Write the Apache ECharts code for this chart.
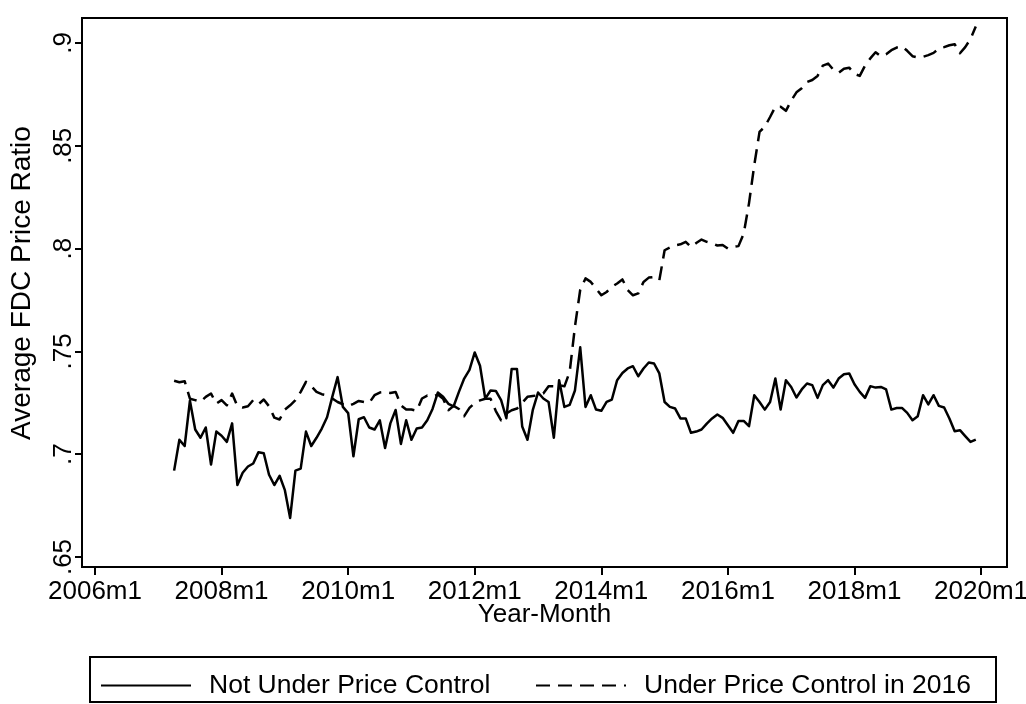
<!DOCTYPE html>
<html>
<head>
<meta charset="utf-8">
<script src="https://cdn.jsdelivr.net/npm/echarts@6/dist/echarts.min.js"></script>
<style>
  html, body { margin: 0; padding: 0; background: #ffffff; }
  #chart { width: 1026px; height: 704px; }
</style>
</head>
<body>
<div id="chart"></div>
<script>
// ---- data (monthly, 2007m4 .. 2019m12) ----
const startYear = 2007;
const startMonth = 4;            // first observation: 2007m4
const baseYear = 2006;           // x axis origin: 2006m1
const xTickValues = [0, 24, 48, 72, 96, 120, 144, 168];   // months since 2006m1
const xTickLabels = ['2006m1', '2008m1', '2010m1', '2012m1', '2014m1', '2016m1', '2018m1', '2020m1'];
const yTickValues = [0.65, 0.7, 0.75, 0.8, 0.85, 0.9];
const yTickLabels = ['.65', '.7', '.75', '.8', '.85', '.9'];
const seriesNames = ['Not Under Price Control', 'Under Price Control in 2016'];

const notUnderControl = [
  // 2007 m4-m12
  0.692, 0.707, 0.704, 0.726, 0.712, 0.708, 0.713, 0.695, 0.711,
  // 2008
  0.709, 0.706, 0.715, 0.685, 0.691, 0.694, 0.6955, 0.701, 0.7005, 0.690, 0.685, 0.6895,
  // 2009
  0.6825, 0.669, 0.692, 0.693, 0.711, 0.704, 0.708, 0.7125, 0.718, 0.728, 0.7375, 0.723,
  // 2010
  0.720, 0.699, 0.717, 0.718, 0.713, 0.712, 0.7165, 0.703, 0.715, 0.7215, 0.705, 0.7165,
  // 2011
  0.707, 0.7125, 0.713, 0.7165, 0.722, 0.730, 0.728, 0.7245, 0.7233, 0.7303, 0.7368, 0.741,
  // 2012
  0.7495, 0.743, 0.727, 0.731, 0.7308, 0.7263, 0.7175, 0.7415, 0.7415, 0.7135, 0.707, 0.7214,
  // 2013
  0.730, 0.7271, 0.7254, 0.708, 0.736, 0.723, 0.724, 0.731, 0.752, 0.723, 0.7287, 0.7217,
  // 2014
  0.7211, 0.7254, 0.7266, 0.736, 0.7395, 0.7417, 0.7428, 0.7379, 0.7417, 0.7446, 0.7441, 0.7393,
  // 2015
  0.7254, 0.723, 0.7222, 0.7174, 0.7174, 0.7104, 0.711, 0.712, 0.7149, 0.7174, 0.7193, 0.7177,
  // 2016
  0.7141, 0.7104, 0.7162, 0.7162, 0.7136, 0.7287, 0.7254, 0.7217, 0.7254, 0.7368, 0.7217, 0.736,
  // 2017
  0.7327, 0.7276, 0.7315, 0.7344, 0.7336, 0.7274, 0.7336, 0.736, 0.7324, 0.7368, 0.7389, 0.7393,
  // 2018
  0.734, 0.7303, 0.7274, 0.7331, 0.7324, 0.7327, 0.7315, 0.7217, 0.7225, 0.7225, 0.7201, 0.7165,
  // 2019
  0.7185, 0.7287, 0.7242, 0.7287, 0.7235, 0.7227, 0.7174, 0.7112, 0.7117, 0.7088, 0.706, 0.7071
];

const underControl2016 = [
  // 2007 m4-m12
  0.7357, 0.735, 0.7355, 0.727, 0.7263, 0.7255, 0.7279, 0.7295, 0.7246,
  // 2008
  0.7263, 0.7238, 0.7295, 0.7233, 0.7227, 0.7233, 0.7263, 0.7243, 0.7266, 0.7233, 0.7178, 0.7169,
  // 2009
  0.7217, 0.7238, 0.7263, 0.7303, 0.7352, 0.7331, 0.7303, 0.7292, 0.7287, 0.7271, 0.7254, 0.7243,
  // 2010
  0.7233, 0.7245, 0.7259, 0.7254, 0.725, 0.7287, 0.730, 0.7303, 0.7298, 0.7303, 0.7238, 0.7217,
  // 2011
  0.7217, 0.7211, 0.7271, 0.7285, 0.728, 0.729, 0.727, 0.7214, 0.7235, 0.722, 0.7185, 0.7225,
  // 2012
  0.725, 0.7262, 0.727, 0.727, 0.721, 0.7165, 0.7198, 0.7214, 0.7222, 0.725, 0.7279, 0.7283,
  // 2013
  0.7287, 0.7295, 0.7331, 0.733, 0.7336, 0.733, 0.740, 0.762, 0.780, 0.7855, 0.7838, 0.7806,
  // 2014
  0.7773, 0.7789, 0.7814, 0.783, 0.785, 0.7798, 0.7773, 0.7782, 0.7838, 0.7859, 0.7862, 0.7846,
  // 2015
  0.7992, 0.8005, 0.8016, 0.8021, 0.8033, 0.8008, 0.8027, 0.8044, 0.8033, 0.8025, 0.8015, 0.8018,
  // 2016
  0.800, 0.8008, 0.8012, 0.8073, 0.822, 0.8406, 0.8568, 0.8593, 0.864, 0.869, 0.869, 0.867,
  // 2017
  0.872, 0.876, 0.878, 0.881, 0.882, 0.884, 0.889, 0.890, 0.887, 0.8855, 0.8875, 0.888,
  // 2018
  0.885, 0.884, 0.889, 0.8925, 0.8955, 0.8935, 0.8945, 0.8965, 0.8978, 0.8984, 0.8962, 0.8936,
  // 2019
  0.893, 0.8933, 0.8941, 0.8952, 0.8973, 0.898, 0.8989, 0.8994, 0.895, 0.898, 0.902, 0.908
];

// ---- build chart ----
const firstIndex = (startYear - baseYear) * 12 + (startMonth - 1); // months since 2006m1
const toPairs = arr => arr.map((v, i) => [firstIndex + i, v]);

const FONT = '"Liberation Sans", Arial, Helvetica, sans-serif';
const FS = 26;
const chart = echarts.init(document.getElementById('chart'), null, { renderer: 'canvas' });

const option = {
  animation: false,
  backgroundColor: '#ffffff',
  textStyle: { fontFamily: FONT, color: '#000' },
  grid: {
    left: 82, right: 19, top: 18, bottom: 137,
    containLabel: false,
    outerBoundsMode: 'none',
    show: true, borderColor: '#000', borderWidth: 2, backgroundColor: 'transparent'
  },
  xAxis: {
    type: 'value',
    // plot region padding around 2006m1..2020m1, as in the original
    min: -2.465,
    max: 172.92,
    axisLine: { show: false, onZero: false },
    axisTick: { show: true, length: 8, customValues: xTickValues, lineStyle: { color: '#000', width: 2 } },
    splitLine: { show: false },
    axisLabel: {
      color: '#000', fontSize: FS, fontFamily: FONT, margin: 12,
      customValues: xTickValues,
      formatter: v => xTickLabels[xTickValues.indexOf(Math.round(v))]
    },
    name: 'Year-Month',
    nameLocation: 'middle',
    nameGap: 35,
    nameMoveOverlap: false,
    nameTextStyle: { color: '#000', fontSize: FS, fontFamily: FONT }
  },
  yAxis: {
    type: 'value',
    min: 0.64514,
    max: 0.91216,
    axisLine: { show: false, onZero: false },
    axisTick: { show: true, length: 7, customValues: yTickValues, lineStyle: { color: '#000', width: 2 } },
    splitLine: { show: false },
    axisLabel: {
      color: '#000', fontSize: FS, fontFamily: FONT, rotate: 90, margin: 5,
      customValues: yTickValues,
      formatter: v => yTickLabels[Math.round((v - 0.65) / 0.05)]
    },
    name: 'Average FDC Price Ratio',
    nameLocation: 'middle',
    nameRotate: 90,
    nameGap: 46,
    nameMoveOverlap: false,
    nameTextStyle: { color: '#000', fontSize: 28, fontFamily: FONT, padding: [0, 0, 0, 19] }
  },
  legend: [
    {
      data: [seriesNames[0]],
      left: 100, top: 672,
      itemWidth: 90, itemHeight: 26, padding: 0,
      itemStyle: { opacity: 0 },
      textStyle: { color: '#000', fontSize: 26.5, fontFamily: FONT, padding: [0, 0, 0, 13] }
    },
    {
      data: [seriesNames[1]],
      left: 535, top: 672,
      itemWidth: 90, itemHeight: 26, padding: 0,
      itemStyle: { opacity: 0 },
      textStyle: { color: '#000', fontSize: 26.5, fontFamily: FONT, padding: [0, 0, 0, 13] }
    }
  ],
  graphic: [
    {
      type: 'rect', silent: true, z: 100,
      shape: { x: 90, y: 657, width: 906, height: 45 },
      style: { fill: 'none', stroke: '#000', lineWidth: 2 }
    }
  ],
  series: [
    {
      name: seriesNames[0],
      type: 'line',
      data: toPairs(notUnderControl),
      symbol: 'none',
      lineStyle: { color: '#000', width: 2.5, type: 'solid', join: 'round' },
      itemStyle: { color: '#000' }
    },
    {
      name: seriesNames[1],
      type: 'line',
      data: toPairs(underControl2016),
      symbol: 'none',
      lineStyle: { color: '#000', width: 2.5, type: [14, 8], join: 'round' },
      itemStyle: { color: '#000' }
    }
  ]
};
chart.setOption(option);
</script>
</body>
</html>
